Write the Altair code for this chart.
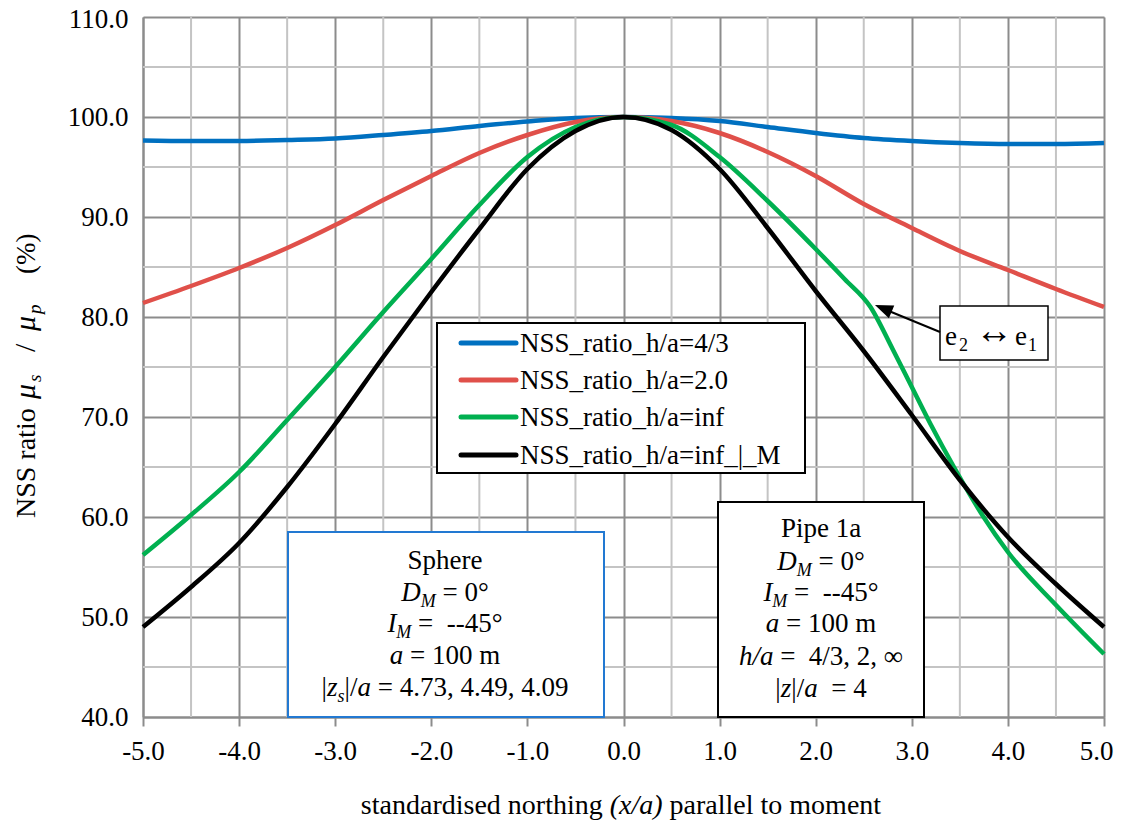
import altair as alt
import pandas as pd

FONT = "Liberation Serif"

# ---------------- data ----------------
series_names = ["NSS_ratio_h/a=4/3", "NSS_ratio_h/a=2.0", "NSS_ratio_h/a=inf", "NSS_ratio_h/a=inf_|_M"]
series_colors = ["#0070C0", "#E0504A", "#00B050", "#000000"]

x_common = [-5, -4.5, -4, -3.5, -3, -2.5, -2, -1.5, -1, -0.5, 0, 0.5, 1, 1.5, 2, 2.5, 3, 3.5, 4, 4.5, 5]
y_blue = [97.65, 97.6, 97.6, 97.7, 97.85, 98.2, 98.6, 99.1, 99.55, 99.9, 100, 99.9, 99.6, 99.0, 98.4, 97.9, 97.6, 97.4, 97.3, 97.3, 97.4]
y_red = [81.4, 83.1, 84.9, 86.9, 89.2, 91.7, 94.1, 96.4, 98.2, 99.5, 100, 99.6, 98.4, 96.5, 94.1, 91.3, 88.9, 86.6, 84.7, 82.8, 81.0]
x_green = [-5, -4.5, -4, -3.5, -3, -2.5, -2, -1.5, -1, -0.5, 0, 0.5, 1, 1.5, 2, 2.3, 2.57, 2.8, 3.0, 3.2, 3.45, 3.74, 4.0, 4.5, 5]
y_green = [56.2, 60.2, 64.5, 69.7, 75.0, 80.5, 85.8, 91.2, 96.0, 99.0, 100, 99.2, 96.0, 91.6, 86.8, 83.8, 81.0, 76.8, 73.0, 69.2, 64.8, 60.1, 56.5, 51.2, 46.3]
y_black = [49.0, 53.0, 57.4, 63.0, 69.3, 76.0, 82.5, 88.8, 94.8, 98.6, 100, 98.7, 94.8, 88.9, 82.6, 76.6, 70.2, 63.7, 58.0, 53.3, 49.0]

x_major = [-5, -4, -3, -2, -1, 0, 1, 2, 3, 4, 5]
y_major = [40, 50, 60, 70, 80, 90, 100, 110]
x_minor = [-4.5, -3.5, -2.5, -1.5, -0.5, 0.5, 1.5, 2.5, 3.5, 4.5]
y_minor = [45, 55, 65, 75, 85, 95, 105]

rows = []
for name, xs, ys in [(series_names[0], x_common, y_blue),
                     (series_names[1], x_common, y_red),
                     (series_names[2], x_green, y_green),
                     (series_names[3], x_common, y_black)]:
    for xv, yv in zip(xs, ys):
        rows.append({"series": name, "x": xv, "y": yv})
df = pd.DataFrame(rows)

W, H = 961, 700
OX, OY = 143, 17  # plot origin on page

xscale = alt.Scale(domain=[-5, 5], nice=False, zero=False)
yscale = alt.Scale(domain=[40, 110], nice=False, zero=False)

# ---------------- text metrics (Times) ----------------
REG = {' ': 250, '(': 333, ')': 333, '%': 833, ',': 250, '-': 333, '.': 250, '/': 278, '=': 564,
       '_': 500, '|': 200, '°': 400, '∞': 713, '↔': 1000, 'D': 722, 'I': 333, 'M': 889, 'N': 722,
       'P': 556, 'S': 556, 'a': 444, 'd': 500, 'e': 444, 'g': 500, 'h': 500, 'i': 278, 'l': 278,
       'm': 778, 'n': 500, 'o': 500, 'p': 500, 'r': 333, 's': 389, 't': 278, 'x': 500, 'z': 444}
ITA = {' ': 250, 'D': 722, 'I': 333, 'M': 833, 'a': 500, 'h': 500, 's': 389, 'x': 444, 'z': 389,
       'p': 500, '/': 278, '(': 333, ')': 333}


def tw(text, italic, size):
    tab = ITA if italic else REG
    return sum(tab.get(c, REG.get(c, 500)) for c in text) / 1000.0 * size


def piece(text, X, Y, size, italic=False, angle=0, dy=0, align="left"):
    return alt.Chart(pd.DataFrame({"t": [text.replace(" ", "\u00a0")]})).mark_text(
        font=FONT, fontSize=size, fontStyle="italic" if italic else "normal",
        align=align, baseline="alphabetic", angle=angle, dy=dy, color="black"
    ).encode(text="t:N", x=alt.value(X - OX), y=alt.value(Y - OY))


def rich_line(parts, cx, base, size=27):
    # parts: (text, italic, sub); leading spaces are converted into an x advance
    sub_size = round(size * 0.68)
    widths = [tw(t, it, sub_size if sb else size) for t, it, sb in parts]
    x = cx - sum(widths) / 2
    out = []
    for (t, it, sb), wv in zip(parts, widths):
        sz = sub_size if sb else size
        stripped = t.lstrip(" ")
        lead = (len(t) - len(stripped)) * 250 / 1000.0 * sz
        out.append(piece(stripped.rstrip(" "), x + lead, base, sz, it, dy=(6 if sb else 0)))
        x += wv
    return out


def box(x1, y1, x2, y2, stroke, sw=2):
    return alt.Chart(pd.DataFrame({"k": [0]})).mark_rect(
        fill="white", stroke=stroke, strokeWidth=sw
    ).encode(x=alt.value(x1 - OX), x2=alt.value(x2 - OX), y=alt.value(y1 - OY), y2=alt.value(y2 - OY))


LABEL_EXPR = "(datum.value < 0 ? '-' : '') + format(abs(datum.value), '.1f')"

# ---------------- base layers ----------------
base = alt.Chart(df)

minor_v = alt.Chart(pd.DataFrame({"x": x_minor})).mark_rule(color="#c4c4c4", strokeWidth=2).encode(
    x=alt.X("x:Q", scale=xscale))
minor_h = alt.Chart(pd.DataFrame({"y": y_minor})).mark_rule(color="#c4c4c4", strokeWidth=2).encode(
    y=alt.Y("y:Q", scale=yscale))

lines = base.mark_line(strokeWidth=4.5, interpolate="monotone").encode(
    x=alt.X("x:Q", scale=xscale,
            axis=alt.Axis(values=x_major, labelExpr=LABEL_EXPR, title=None, grid=True, gridColor="#8c8c8c",
                          gridWidth=2, domainColor="#8c8c8c", domainWidth=2, tickColor="#8c8c8c",
                          tickWidth=2, tickSize=9, labelPadding=12, labelFont=FONT, labelFontSize=27,
                          labelColor="black", labelFlush=False, labelOverlap=False,
                          labelOffset={"condition": {"test": "datum.value == 5", "value": -8}, "value": 0})),
    y=alt.Y("y:Q", scale=yscale,
            axis=alt.Axis(values=y_major, labelExpr=LABEL_EXPR, title=None, grid=True, gridColor="#8c8c8c",
                          gridWidth=2, domainColor="#8c8c8c", domainWidth=2, ticks=False,
                          labelPadding=15, labelFont=FONT, labelFontSize=27, labelColor="black",
                          labelFlush=False, labelOverlap=False,
                          labelOffset={"condition": {"test": "datum.value == 110", "value": 2}, "value": 0})),
    color=alt.Color("series:N", scale=alt.Scale(domain=series_names, range=series_colors), legend=None),
    order=alt.Order("x:Q"),
)

layers = [minor_v, minor_h, lines]

# ---------------- legend ----------------
layers.append(box(437, 323, 805, 473, "black", 2))
row_y = [343, 380, 417, 455]
for name, col, ry in zip(series_names, series_colors, row_y):
    layers.append(alt.Chart(pd.DataFrame({"k": [0]})).mark_rule(color=col, strokeWidth=5, strokeCap="round").encode(
        x=alt.value(461 - OX), x2=alt.value(516 - OX), y=alt.value(ry - OY)))
    layers.append(piece(name, 520, ry + 9, 27))

# ---------------- sphere box ----------------
layers.append(box(288, 532, 604, 717, "#2279D2", 2))
cx = 445
sphere_lines = [
    ([("Sphere", False, False)], 569),
    ([("D", True, False), ("M", True, True), (" = 0°", False, False)], 601),
    ([("I", True, False), ("M", True, True), (" =  --45°", False, False)], 632),
    ([("a", True, False), (" = 100 m", False, False)], 664),
    ([("|", False, False), ("z", True, False), ("s", True, True), ("|/", False, False), ("a", True, False),
      (" = 4.73, 4.49, 4.09", False, False)], 696),
]
for parts, b in sphere_lines:
    layers += rich_line(parts, cx, b)

# ---------------- pipe box ----------------
layers.append(box(718, 502, 924, 717, "black", 2))
cx = 821
pipe_lines = [
    ([("Pipe 1a", False, False)], 537),
    ([("D", True, False), ("M", True, True), (" = 0°", False, False)], 570),
    ([("I", True, False), ("M", True, True), (" =  --45°", False, False)], 601),
    ([("a", True, False), (" = 100 m", False, False)], 632),
    ([("h/a", True, False), (" =  4/3, 2, ∞", False, False)], 665),
    ([("|", False, False), ("z", True, False), ("|/", False, False), ("a", True, False),
      ("  = 4", False, False)], 697),
]
for parts, b in pipe_lines:
    layers += rich_line(parts, cx, b)

# ---------------- e2 <-> e1 annotation ----------------
layers.append(box(940, 306, 1048, 360, "black", 1.5))
for t, X, Y, sz, al in [("e", 945, 345, 27, "left"), ("2", 959, 351, 18, "left"),
                        ("↔", 994, 343, 38, "center"), ("e", 1015, 345, 27, "left"),
                        ("1", 1028, 351, 18, "left")]:
    layers.append(piece(t, X, Y, sz, False, align=al))
layers.append(alt.Chart(pd.DataFrame({"k": [0]})).mark_rule(color="black", strokeWidth=2).encode(
    x=alt.value(940 - OX), x2=alt.value(884 - OX), y=alt.value(332 - OY), y2=alt.value(309 - OY)))
layers.append(alt.Chart(pd.DataFrame({"k": [0]})).mark_point(
    shape="M0,-1L0.7,0.8L-0.7,0.8Z", filled=True, color="black", opacity=1, size=400, angle=292.6
).encode(x=alt.value(884.2 - OX), y=alt.value(308.8 - OY)))

# ---------------- axis titles ----------------
layers += rich_line([("standardised northing ", False, False), ("(x/a)", True, False),
                     (" parallel to moment", False, False)], 621, 814, size=28)

# y title, rotated, reading upward
yx = 35
for t, it, sb, start, sz in [("NSS ratio", False, False, 518, 28),
                             ("μ", True, False, 399, 30),
                             ("s", True, True, 382, 19),
                             ("/", False, False, 352, 30),
                             ("μ", True, False, 331, 30),
                             ("p", True, True, 314, 19),
                             ("(%)", False, False, 274, 27)]:
    layers.append(alt.Chart(pd.DataFrame({"t": [t]})).mark_text(
        font=FONT, fontSize=sz, fontStyle="italic" if it else "normal", align="left",
        baseline="alphabetic", angle=270, color="black"
    ).encode(text="t:N", x=alt.value(yx + (6 if sb else 0) - OX), y=alt.value(start - OY)))

chart = alt.layer(*layers).properties(
    width=W, height=H,
    autosize=alt.AutoSizeParams(type="none"),
    padding={"left": 135, "top": 9, "right": 13, "bottom": 103},
).configure_view(stroke="#8c8c8c", strokeWidth=2).configure(background="white")

chart.save("out.html", embed_options={"renderer": "svg", "actions": False})
